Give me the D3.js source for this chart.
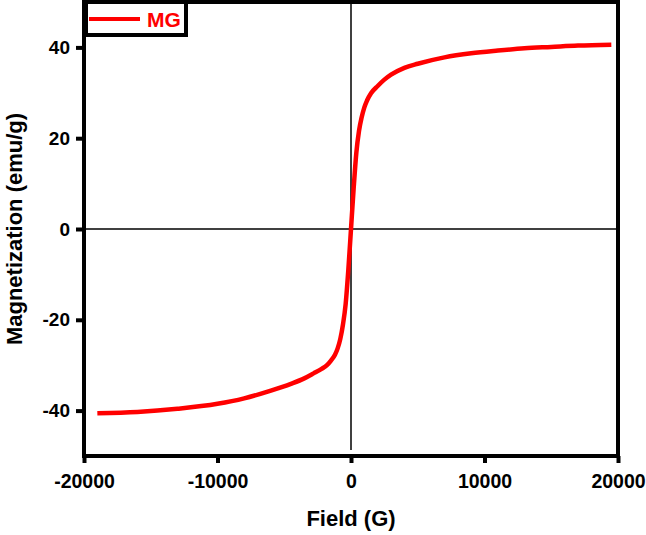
<!DOCTYPE html>
<html>
<head>
<meta charset="utf-8">
<script src="https://cdn.jsdelivr.net/npm/d3@7"></script>
<style>
  html, body { margin: 0; padding: 0; background: #fff; }
  svg { display: block; }
  text { font-family: "Liberation Sans", Arial, sans-serif; font-weight: bold; }
</style>
</head>
<body>
<svg id="chart" width="646" height="535"></svg>
<script>
// Data (Field in G, Magnetization in emu/g)
const field = [-19000, -16000, -13000, -10000, -8000, -6000, -4500, -3500, -2800, -2200, -1800, -1500, -1200, -1000, -800, -600, -400, -200, 0,
               200, 400, 600, 800, 1000, 1200, 1500, 2000, 2500, 3000, 4000, 5000, 7000, 9000, 11000, 13000, 15000, 17000, 19500];
const magnetization = [-40.6, -40.3, -39.6, -38.5, -37.3, -35.6, -34.1, -32.9, -31.8, -30.8, -30.0, -29.0, -27.7, -26.3, -24.2, -21.0, -16.5, -9.0, 0,
               9.0, 16.8, 21.6, 24.6, 26.8, 28.3, 29.9, 31.5, 32.9, 34.0, 35.5, 36.4, 37.8, 38.7, 39.3, 39.8, 40.1, 40.4, 40.6];
const xTicks = [-20000, -10000, 0, 10000, 20000];
const yTicks = [-40, -20, 0, 20, 40];
const seriesName = "MG";
const xTitle = "Field (G)";
const yTitle = "Magnetization (emu/g)";

const data = field.map((f, i) => ({ x: f, y: magnetization[i] }));
const fmt = d => String(d);

const svg = d3.select("#chart");
const L = 84, R = 618, T = 2, B = 456;

const x = d3.scaleLinear().domain([-20000, 20000]).range([L, R]);
const y = d3.scaleLinear().domain([-50, 50]).range([B, T]);

// zero lines
svg.append("line").attr("x1", L).attr("x2", R).attr("y1", y(0)).attr("y2", y(0))
  .attr("stroke", "#000").attr("stroke-width", 1.5);
svg.append("line").attr("x1", x(0)).attr("x2", x(0)).attr("y1", T).attr("y2", B - 6)
  .attr("stroke", "#000").attr("stroke-width", 1.5);

// curve
svg.append("path").datum(data)
  .attr("fill", "none").attr("stroke", "#ff0000").attr("stroke-width", 4.5)
  .attr("stroke-linejoin", "round")
  .attr("d", d3.line().x(d => x(d.x)).y(d => y(d.y)).curve(d3.curveMonotoneX));

// frame
svg.append("rect").attr("x", L).attr("y", T).attr("width", R - L).attr("height", B - T)
  .attr("fill", "none").attr("stroke", "#000").attr("stroke-width", 4);

// x axis
const xAxis = svg.append("g").attr("transform", `translate(0,${B})`)
  .call(d3.axisBottom(x).tickValues(xTicks).tickFormat(fmt).tickSize(7).tickPadding(11));
xAxis.select(".domain").remove();
xAxis.selectAll("line").attr("stroke", "#000").attr("stroke-width", 4);
xAxis.selectAll("text").attr("font-size", "19.5px").attr("fill", "#000")
  .style("font-family", '"Liberation Sans", Arial, sans-serif').style("font-weight", "bold");

// y axis
const yAxis = svg.append("g").attr("transform", `translate(${L},0)`)
  .call(d3.axisLeft(y).tickValues(yTicks).tickFormat(fmt).tickSize(8).tickPadding(6));
yAxis.select(".domain").remove();
yAxis.selectAll("line").attr("stroke", "#000").attr("stroke-width", 4);
yAxis.selectAll("text").attr("font-size", "19px").attr("fill", "#000")
  .style("font-family", '"Liberation Sans", Arial, sans-serif').style("font-weight", "bold");

// titles
svg.append("text").attr("x", x(0)).attr("y", 526).attr("text-anchor", "middle")
  .attr("font-size", "22px").attr("fill", "#000").text(xTitle);
svg.append("text").attr("transform", `translate(22,${y(0)}) rotate(-90)`).attr("text-anchor", "middle")
  .attr("font-size", "22px").attr("fill", "#000").text(yTitle);

// legend
svg.append("rect").attr("x", 86).attr("y", 2).attr("width", 100).attr("height", 33)
  .attr("fill", "#fff").attr("stroke", "#000").attr("stroke-width", 4);
svg.append("line").attr("x1", 89).attr("x2", 140).attr("y1", 19).attr("y2", 19)
  .attr("stroke", "#ff0000").attr("stroke-width", 4);
svg.append("text").attr("x", 147).attr("y", 27).attr("font-size", "21px").attr("fill", "#ff0000").text(seriesName);
</script>
</body>
</html>
